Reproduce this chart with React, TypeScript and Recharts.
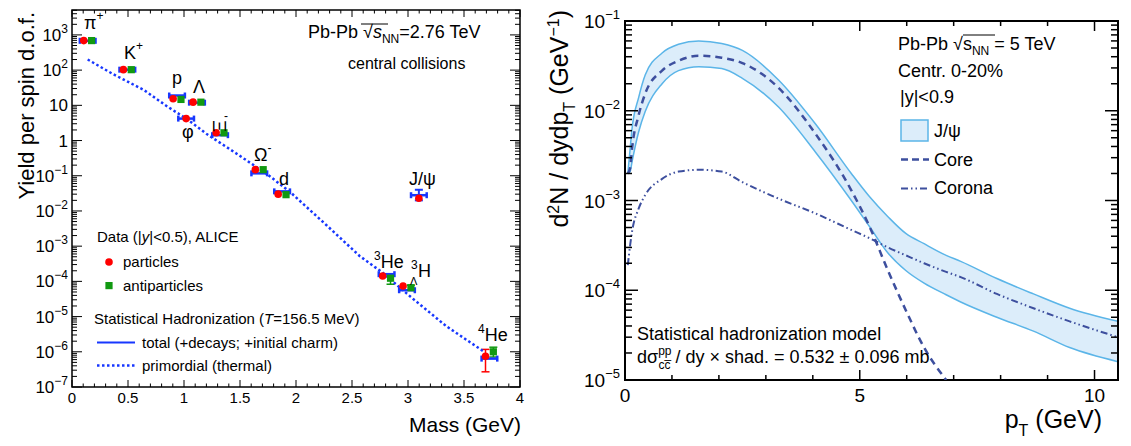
import React from "react";
import {
  ComposedChart,
  Scatter,
  Area,
  Line,
  XAxis,
  YAxis,
  ErrorBar,
  ReferenceArea,
} from "recharts";

const FONT = "'Liberation Sans', Arial, Helvetica, sans-serif";
const RED = "#ff0000";
const GREEN = "#119911";
const BLUE = "#1737ff";
const SKY = "#5bb5e8";
const BAND = "#dcedfa";
const NAVY = "#3d4f9e";

// ---------- left panel: yields per spin d.o.f. vs mass ----------
const species = ["pi+", "K+", "p", "phi", "Lambda", "Xi-", "Omega-", "d", "J/psi", "3He", "3LH", "4He"];
const mass = [0.14, 0.494, 0.938, 1.019, 1.116, 1.322, 1.672, 1.876, 3.097, 2.809, 2.991, 3.727];
const particleYield = [690, 103, 15.4, 4.2, 12.3, 1.66, 0.149, 0.03, 0.023, 1.42e-4, 7.4e-5, 7.5e-7];
const antiYield = [690, 103, 14.7, null, 12.3, 1.66, 0.149, 0.029, null, 1.23e-4, 6.6e-5, 1.0e-6];
// error ranges [low, high] where visible
const particleErr: ([number, number] | null)[] = [null, null, null, null, null, null, null, null, null, null, null, [2.7e-7, 1.17e-6]];
const antiErr: ([number, number] | null)[] = [null, null, null, null, null, null, null, null, null, [0.83e-4, 1.5e-4], [5.6e-5, 7.8e-5], [7.1e-7, 1.35e-6]];
const modelTotal = [680, 103, 19, 4.2, 11.9, 1.42, 0.117, 0.036, 0.028, 1.6e-4, 5.6e-5, 6.4e-7];
const modelErr: ([number, number] | null)[] = [null, null, null, null, null, null, null, null, [0.02, 0.04], null, null, null];

const primMass = [0.14, 0.37, 0.64, 0.85, 1.02, 1.2, 1.44, 1.74, 1.95, 2.27, 2.57, 2.77, 3.03, 3.34, 3.67];
const primYield = [200, 76, 27.5, 9.3, 4.2, 1.55, 0.49, 0.112, 0.034, 4.0e-3, 5.2e-4, 1.8e-4, 3.5e-5, 5.4e-6, 1.05e-6];

const OFFSET = 0.035; // particles drawn left, antiparticles right of the mass
const BAR_HALF = 0.07;

const LEFT_YMAX = 5100;
const leftDecades = [-7, -6, -5, -4, -3, -2, -1, 0, 1, 2, 3];
const rightDecades = [-5, -4, -3, -2, -1];

// ---------- right panel: J/psi pT spectrum ----------
const pT = [0.06, 0.11, 0.15, 0.29, 0.43, 0.79, 1.14, 1.57, 2.06, 2.5, 3.27, 4.05, 4.82, 5.21, 5.6, 5.98, 6.37, 6.84, 7.15, 7.92, 8.7, 9.47, 10.5];
const bandHigh = [2.0e-3, 3.8e-3, 6.3e-3, 1.4e-2, 2.5e-2, 4.4e-2, 5.5e-2, 6.0e-2, 5.6e-2, 4.7e-2, 2.2e-2, 7.2e-3, 2.0e-3, 1.1e-3, 6.6e-4, 4.3e-4, 3.3e-4, 2.45e-4, 2.1e-4, 1.35e-4, 9.1e-5, 6.3e-5, 4.5e-5];
const bandLow = [2.0e-3, 2.1e-3, 2.7e-3, 5.8e-3, 9.8e-3, 2.0e-2, 2.8e-2, 3.1e-2, 2.95e-2, 2.3e-2, 1.1e-2, 3.5e-3, 1.0e-3, 5.1e-4, 2.6e-4, 1.66e-4, 1.2e-4, 8.9e-5, 7.4e-5, 5.0e-5, 3.5e-5, 2.3e-5, 1.6e-5];
const core = [2.0e-3, 2.3e-3, 3.8e-3, 8.9e-3, 1.55e-2, 2.8e-2, 3.6e-2, 4.1e-2, 3.9e-2, 3.4e-2, 1.8e-2, 5.6e-3, 1.3e-3, 5.1e-4, 1.66e-4, 6.0e-5, 2.3e-5, 1.0e-5, null, null, null, null, null];
const corona = [1.9e-4, 3.2e-4, 4.5e-4, 8.1e-4, 1.15e-3, 1.74e-3, 2.1e-3, 2.2e-3, 2.1e-3, 1.6e-3, 1.05e-3, 7.2e-4, 4.7e-4, 3.8e-4, 3.0e-4, 2.45e-4, 2.0e-4, 1.6e-4, 1.4e-4, 9.1e-5, 6.3e-5, 4.5e-5, 3.0e-5];

// ---------- derived tables ----------
const particlePts = species.map((s, i) => ({
  name: s,
  m: antiYield[i] == null ? mass[i] : mass[i] - OFFSET,
  v: particleYield[i],
}));
const antiPts = species
  .map((s, i) => ({ name: s, m: mass[i] + OFFSET, v: antiYield[i] }))
  .filter((d) => d.v != null);
const particleErrPts = particlePts
  .map((d, i) => ({ ...d, e: particleErr[i] ? [d.v - particleErr[i]![0], particleErr[i]![1] - d.v] : null }))
  .filter((d) => d.e);
const antiErrPts = species
  .map((s, i) => ({ name: s, m: mass[i] + OFFSET, v: antiYield[i] as number, r: antiErr[i] }))
  .filter((d) => d.r)
  .map((d) => ({ ...d, e: [d.v - d.r![0], d.r![1] - d.v] }));
const modelPts = species.map((s, i) => ({ name: s, m: mass[i], v: modelTotal[i], xe: BAR_HALF }));
const modelErrPts = species
  .map((s, i) => ({ name: s, m: mass[i], v: modelTotal[i], r: modelErr[i] }))
  .filter((d) => d.r)
  .map((d) => ({ ...d, e: [d.v - d.r![0], d.r![1] - d.v] }));
const primPts = primMass.map((m, i) => ({ m, v: primYield[i] }));

const spectrum = pT.map((p, i) => ({
  pT: p,
  band: [bandLow[i], bandHigh[i]],
  core: core[i],
  corona: corona[i],
}));

const logTicks = (decades: number[], max: number) =>
  decades.flatMap((e) => [1, 2, 3, 4, 5, 6, 7, 8, 9].map((k) => k * Math.pow(10, e))).filter((v) => v <= max * 1.0001);

const leftYTicks = logTicks(leftDecades, LEFT_YMAX);
const rightYTicks = logTicks(rightDecades, 0.1);
const massTicks = Array.from({ length: 41 }, (_, i) => i / 10);
const ptTicks = Array.from({ length: 11 }, (_, i) => i);

// plot sizes, used to mirror ticks on the opposite frame side
const L = { w: 448, h: 377 };
const R = { w: 493, h: 359 };

const isDecade = (v: number) => {
  const lg = Math.log10(v);
  return Math.abs(lg - Math.round(lg)) < 1e-6;
};

function PowLabel({ e, small, rise }: { e: number; small: number; rise: number }) {
  if (e === 0) return <>1</>;
  if (e === 1) return <>10</>;
  return (
    <>
      10
      <tspan dy={-rise} fontSize={small}>
        {e < 0 ? "\u2212" + -e : e}
      </tspan>
    </>
  );
}

function LeftYTick(props: any) {
  const { x, y, payload } = props;
  const major = isDecade(payload.value);
  const len = major ? 10 : 5;
  return (
    <g>
      <line x1={x} x2={x + len} y1={y} y2={y} stroke="#000" strokeWidth={1} />
      <line x1={x + L.w} x2={x + L.w - len} y1={y} y2={y} stroke="#000" strokeWidth={1} />
      {major && (
        <text x={x - 4} y={y + 6} textAnchor="end" fontSize={17} fontFamily={FONT} fill="#000">
          <PowLabel e={Math.round(Math.log10(payload.value))} small={12} rise={8} />
        </text>
      )}
    </g>
  );
}

function MassTick(props: any) {
  const { x, y, payload } = props;
  const v = payload.value;
  const major = Math.abs(v * 2 - Math.round(v * 2)) < 1e-6;
  const len = major ? 7 : 3.5;
  return (
    <g>
      <line x1={x} x2={x} y1={y} y2={y - len} stroke="#000" strokeWidth={1} />
      <line x1={x} x2={x} y1={y - L.h} y2={y - L.h + len} stroke="#000" strokeWidth={1} />
      {major && (
        <text x={x} y={y + 16} textAnchor="middle" fontSize={15} fontFamily={FONT} fill="#000">
          {String(Math.round(v * 10) / 10)}
        </text>
      )}
    </g>
  );
}

function RightYTick(props: any) {
  const { x, y, payload } = props;
  const major = isDecade(payload.value);
  const len = major ? 13 : 7;
  return (
    <g>
      <line x1={x} x2={x + len} y1={y} y2={y} stroke="#000" strokeWidth={1.5} />
      <line x1={x + R.w} x2={x + R.w - len} y1={y} y2={y} stroke="#000" strokeWidth={1.5} />
      {major && (
        <text x={x - 5} y={y + 7} textAnchor="end" fontSize={19} fontFamily={FONT} fill="#000">
          <PowLabel e={Math.round(Math.log10(payload.value))} small={13} rise={9} />
        </text>
      )}
    </g>
  );
}

function PtTick(props: any) {
  const { x, y, payload } = props;
  const v = payload.value;
  const major = v % 5 === 0;
  const len = major ? 10 : 5;
  return (
    <g>
      <line x1={x} x2={x} y1={y} y2={y - len} stroke="#000" strokeWidth={1.5} />
      <line x1={x} x2={x} y1={y - R.h} y2={y - R.h + len} stroke="#000" strokeWidth={1.5} />
      {major && (
        <text x={x} y={y + 22} textAnchor="middle" fontSize={19} fontFamily={FONT} fill="#000">
          {v}
        </text>
      )}
    </g>
  );
}

const none = () => <g />;

function LeftChart() {
  return (
    <ComposedChart width={560} height={446} margin={{ top: 10, right: 40, bottom: 0, left: 0 }}>
      <XAxis
        dataKey="m"
        type="number"
        domain={[0, 4]}
        ticks={massTicks}
        interval={0}
        tick={(p: any) => <MassTick {...p} />}
        tickLine={false}
        axisLine={false}
        tickSize={0}
        tickMargin={0}
        height={59}
        allowDataOverflow
      />
      <YAxis
        dataKey="v"
        type="number"
        scale="log"
        domain={[1e-7, LEFT_YMAX]}
        ticks={leftYTicks}
        interval={0}
        tick={(p: any) => <LeftYTick {...p} />}
        tickLine={false}
        axisLine={false}
        tickSize={0}
        tickMargin={0}
        width={72}
        allowDataOverflow
      />
      <Scatter
        data={primPts}
        shape={none}
        line={{ stroke: BLUE, strokeWidth: 2.5, strokeDasharray: "2.5 2.5" }}
        lineType="joint"
        isAnimationActive={false}
      />
      <Scatter data={particleErrPts} shape={none} isAnimationActive={false}>
        <ErrorBar dataKey="e" direction="y" width={4} stroke={RED} strokeWidth={1.5} />
      </Scatter>
      <Scatter data={antiErrPts} shape={none} isAnimationActive={false}>
        <ErrorBar dataKey="e" direction="y" width={4} stroke={GREEN} strokeWidth={1.5} />
      </Scatter>
      <Scatter
        data={particlePts}
        shape={(p: any) => <circle cx={p.cx} cy={p.cy} r={3.8} fill={RED} />}
        isAnimationActive={false}
      />
      <Scatter
        data={antiPts}
        shape={(p: any) => <rect x={p.cx - 3.6} y={p.cy - 3.6} width={7.2} height={7.2} fill={GREEN} />}
        isAnimationActive={false}
      />
      <Scatter data={modelErrPts} shape={none} isAnimationActive={false}>
        <ErrorBar dataKey="e" direction="y" width={4} stroke={BLUE} strokeWidth={2} />
      </Scatter>
      <Scatter data={modelPts} shape={none} isAnimationActive={false}>
        <ErrorBar dataKey="xe" direction="x" width={3} stroke={BLUE} strokeWidth={2.5} />
      </Scatter>
      <ReferenceArea x1={0} x2={4} y1={1e-7} y2={LEFT_YMAX} fill="none" stroke="#000" strokeWidth={1.5} ifOverflow="visible" />
    </ComposedChart>
  );
}

function RightChart() {
  return (
    <ComposedChart width={571} height={446} data={spectrum} margin={{ top: 21, right: 13, bottom: 0, left: 0 }}>
      <XAxis
        dataKey="pT"
        type="number"
        domain={[0, 10.5]}
        ticks={ptTicks}
        interval={0}
        tick={(p: any) => <PtTick {...p} />}
        tickLine={false}
        axisLine={false}
        tickSize={0}
        tickMargin={0}
        height={66}
        allowDataOverflow
      />
      <YAxis
        type="number"
        scale="log"
        domain={[1e-5, 0.1]}
        ticks={rightYTicks}
        interval={0}
        tick={(p: any) => <RightYTick {...p} />}
        tickLine={false}
        axisLine={false}
        tickSize={0}
        tickMargin={0}
        width={65}
        allowDataOverflow
      />
      <Area
        dataKey="band"
        type="monotone"
        stroke={SKY}
        strokeWidth={1.5}
        fill={BAND}
        fillOpacity={1}
        isAnimationActive={false}
        dot={false}
        activeDot={false}
      />
      <Line
        dataKey="corona"
        type="monotone"
        stroke={NAVY}
        strokeWidth={2}
        strokeDasharray="7 3 1.5 3 1.5 3"
        dot={false}
        activeDot={false}
        isAnimationActive={false}
      />
      <Line
        dataKey="core"
        type="monotone"
        stroke={NAVY}
        strokeWidth={2.5}
        strokeDasharray="7 5"
        dot={false}
        activeDot={false}
        isAnimationActive={false}
      />
      <ReferenceArea x1={0} x2={10.5} y1={1e-5} y2={0.1} fill="none" stroke="#000" strokeWidth={2} ifOverflow="visible" />
    </ComposedChart>
  );
}

function Overlay() {
  const t = { fontFamily: FONT, fill: "#000" } as const;
  return (
    <svg width={1131} height={446} style={{ position: "absolute", left: 0, top: 0, pointerEvents: "none" }}>
      {/* left panel axis titles */}
      <text transform="rotate(-90)" x={-12} y={34} textAnchor="end" fontSize={22} {...t}>
        Yield per spin d.o.f.
      </text>
      <text x={521} y={432} textAnchor="end" fontSize={21} {...t}>
        Mass (GeV)
      </text>

      {/* left panel header */}
      <text x={308} y={38} fontSize={18} {...t}>
        Pb-Pb {"\u221A"}
        <tspan fontStyle="italic">s</tspan>
        <tspan dy={5} fontSize={12}>NN</tspan>
        <tspan dy={-5}>=2.76 TeV</tspan>
      </text>
      <line x1={361} x2={388} y1={24} y2={24} stroke="#000" strokeWidth={1} />
      <text x={348} y={69} fontSize={16} {...t}>
        central collisions
      </text>

      {/* particle labels */}
      <g fontSize={18} {...t}>
        <text x={84} y={29}>
          {"\u03C0"}
          <tspan dy={-9} fontSize={12}>+</tspan>
        </text>
        <text x={124} y={59}>
          K<tspan dy={-9} fontSize={12}>+</tspan>
        </text>
        <text x={172} y={84}>p</text>
        <text x={193} y={93}>{"\u039B"}</text>
        <text x={182} y={138}>{"\u03C6"}</text>
        <text transform="rotate(90 219 126)" x={219} y={132} textAnchor="middle">
          {"\u039E"}
        </text>
        <text x={224} y={120} fontSize={12}>-</text>
        <text x={254} y={161}>
          {"\u03A9"}
          <tspan dy={-9} fontSize={12}>-</tspan>
        </text>
        <text x={279} y={185}>d</text>
        <text x={409} y={185}>J/{"\u03C8"}</text>
        <text x={374} y={268}>
          <tspan dy={-8} fontSize={12}>3</tspan>
          <tspan dy={8}>He</tspan>
        </text>
        <text x={411} y={269} fontSize={12}>3</text>
        <text x={410} y={285} fontSize={11}>{"\u039B"}</text>
        <text x={418} y={277}>H</text>
        <text x={478} y={341}>
          <tspan dy={-8} fontSize={12}>4</tspan>
          <tspan dy={8}>He</tspan>
        </text>
      </g>

      {/* left legend */}
      <g fontSize={15} {...t}>
        <text x={97} y={242}>
          Data (|<tspan fontStyle="italic">y</tspan>|{"<"}0.5), ALICE
        </text>
        <circle cx={109} cy={262} r={3.8} fill={RED} />
        <text x={123} y={267}>particles</text>
        <rect x={105.4} y={282} width={7.2} height={7.2} fill={GREEN} />
        <text x={123} y={291}>antiparticles</text>
        <text x={94} y={324}>
          Statistical Hadronization (<tspan fontStyle="italic">T</tspan>=156.5 MeV)
        </text>
        <line x1={97} x2={135} y1={342.5} y2={342.5} stroke={BLUE} strokeWidth={2} />
        <text x={142} y={348}>total (+decays; +initial charm)</text>
        <line x1={97} x2={135} y1={365.5} y2={365.5} stroke={BLUE} strokeWidth={2.5} strokeDasharray="2.5 2.5" />
        <text x={142} y={371}>primordial (thermal)</text>
      </g>

      {/* right panel axis titles */}
      <text transform="rotate(-90)" x={-10} y={568} textAnchor="end" fontSize={25} {...t}>
        d<tspan dy={-9} fontSize={16}>2</tspan>
        <tspan dy={9}>N / dydp</tspan>
        <tspan dy={7} fontSize={16}>T</tspan>
        <tspan dy={-7}> (GeV</tspan>
        <tspan dy={-9} fontSize={16}>{"\u2212"}1</tspan>
        <tspan dy={9}>)</tspan>
      </text>
      <text x={1102} y={428} textAnchor="end" fontSize={25} {...t}>
        p<tspan dy={8} fontSize={16}>T</tspan>
        <tspan dy={-8}> (GeV)</tspan>
      </text>

      {/* right panel header + legend */}
      <g fontSize={18} {...t}>
        <text x={898} y={50}>
          Pb-Pb {"\u221A"}s<tspan dy={5} fontSize={12}>NN</tspan>
          <tspan dy={-5}> = 5 TeV</tspan>
        </text>
        <line x1={963} x2={995} y1={35} y2={35} stroke="#000" strokeWidth={1} />
        <text x={898} y={77}>Centr. 0-20%</text>
        <text x={900} y={103}>|y|{"<"}0.9</text>
        <rect x={901} y={120} width={27} height={21} fill={BAND} stroke={SKY} strokeWidth={1.5} />
        <text x={934} y={137}>J/{"\u03C8"}</text>
        <line x1={901} x2={929} y1={159.5} y2={159.5} stroke={NAVY} strokeWidth={2.5} strokeDasharray="7 4" />
        <text x={934} y={166}>Core</text>
        <line x1={901} x2={929} y1={188.5} y2={188.5} stroke={NAVY} strokeWidth={2} strokeDasharray="7 3 1.5 3 1.5 3" />
        <text x={934} y={194}>Corona</text>
        <text x={637} y={340}>Statistical hadronization model</text>
        <text x={637} y={363}>
          d{"\u03C3"}
          <tspan dy={-8} fontSize={12}>pp</tspan>
          <tspan dx={-13} dy={14} fontSize={12}>c{"c\u0305"}</tspan>
          <tspan dy={-6}> / dy {"\u00D7"} shad. = 0.532 {"\u00B1"} 0.096 mb</tspan>
        </text>
      </g>
    </svg>
  );
}

export default function App() {
  return (
    <div style={{ position: "absolute", left: 0, top: 0, width: 1131, height: 446, background: "#fff" }}>
      <div style={{ position: "absolute", left: 0, top: 0 }}>
        <LeftChart />
      </div>
      <div style={{ position: "absolute", left: 560, top: 0 }}>
        <RightChart />
      </div>
      <Overlay />
    </div>
  );
}
